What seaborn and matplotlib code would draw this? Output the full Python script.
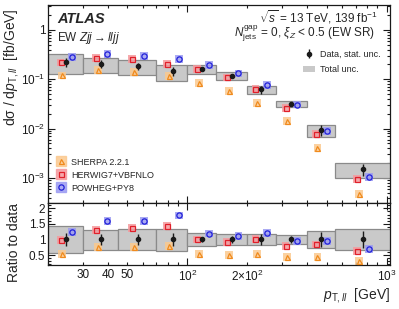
import numpy as np
import pandas as pd
import matplotlib
matplotlib.use("Agg")
import matplotlib.pyplot as plt
import seaborn as sns
from matplotlib.lines import Line2D
from matplotlib.patches import Patch
from matplotlib.legend_handler import HandlerTuple
from matplotlib.ticker import FixedLocator, FuncFormatter, MultipleLocator, NullFormatter

# ---------------- data ----------------
bin_edges = [20, 30, 45, 70, 100, 140, 200, 280, 400, 550, 1100]
pt_mean = [24.6, 37.0, 56.4, 84.4, 119.0, 168.0, 234.0, 331.0, 469.0, 759.0]
xsec_data = [0.225, 0.205, 0.185, 0.146, 0.160, 0.118, 0.062, 0.032, 0.0093, 0.0015]
stat_rel = [0.22, 0.17, 0.17, 0.21, 0.08, 0.10, 0.18, 0.10, 0.25, 0.28]
tot_up = [1.43, 1.31, 1.32, 1.35, 1.22, 1.16, 1.19, 1.14, 1.26, 1.35]
tot_dn = [0.57, 0.66, 0.66, 0.62, 0.79, 0.82, 0.82, 0.84, 0.73, 0.65]
ratio_sherpa = [0.53, 0.75, 0.75, 0.79, 0.53, 0.49, 0.54, 0.45, 0.44, 0.31]
ratio_herwig = [0.97, 1.30, 1.37, 1.42, 1.00, 0.92, 1.01, 0.80, 0.84, 0.63]
ratio_powheg = [1.24, 1.60, 1.60, 1.77, 1.19, 1.11, 1.22, 0.96, 0.95, 0.69]
model_names = ["SHERPA 2.2.1", "HERWIG7+VBFNLO", "POWHEG+PY8"]

# ---------------- style ----------------
sns.set_theme(style="ticks")
plt.rcParams["font.family"] = ["Liberation Sans", "DejaVu Sans"]
plt.rcParams["mathtext.fontset"] = "custom"
plt.rcParams["mathtext.rm"] = "Liberation Sans"
plt.rcParams["mathtext.it"] = "Liberation Sans:italic"
plt.rcParams["mathtext.bf"] = "Liberation Sans:bold"
plt.rcParams["mathtext.sf"] = "Liberation Sans"

edges = np.array(bin_edges, dtype=float)
lefts = edges[:-1]
widths = edges[1:] - edges[:-1]
xm = np.array(pt_mean)
data = np.array(xsec_data)
stat = np.array(stat_rel)
up = np.array(tot_up)
dn = np.array(tot_dn)

models = [
    dict(name=model_names[0], r=np.array(ratio_sherpa), marker="^", ec="#f08a1c", bg="#fbc98f", shift=0.96, ms=3.6),
    dict(name=model_names[1], r=np.array(ratio_herwig), marker="s", ec="#e0202a", bg="#f59a9e", shift=0.94, ms=3.6),
    dict(name=model_names[2], r=np.array(ratio_powheg), marker="o", ec="#2020d8", bg="#9c9cf2", shift=1.075, ms=3.8),
]

rows = []
for m in models:
    for i in range(len(xm)):
        rows.append(dict(model=m["name"], x=xm[i] * m["shift"], main=data[i] * m["r"][i], ratio=m["r"][i]))
df = pd.DataFrame(rows)
bg_pal = {m["name"]: m["bg"] for m in models}

fig = plt.figure(figsize=(3.99, 3.09), dpi=100)
ax = fig.add_axes([0.1203, 0.343, 0.857, 0.641])
rax = fig.add_axes([0.1203, 0.1424, 0.857, 0.2006], sharex=ax)

box_face = "#c9c9c9"
box_edge = "#8a8a8a"

# main panel
ax.set_xscale("log")
ax.set_yscale("log")
ax.bar(lefts, data * (up - dn), width=widths, bottom=data * dn, align="edge",
       color=box_face, edgecolor=box_edge, linewidth=0.9, zorder=1)
sns.scatterplot(data=df, x="x", y="main", hue="model", palette=bg_pal, marker="s", s=32,
                edgecolor="none", alpha=0.85, legend=False, ax=ax, zorder=2)
for m in models:
    ax.plot(xm * m["shift"], data * m["r"], ls="none", marker=m["marker"], ms=m["ms"],
            mfc="none", mec=m["ec"], mew=0.9, zorder=3)
eb = ax.errorbar(xm, data, yerr=data * stat, fmt="o", color="k", ms=3, elinewidth=1,
                 capsize=0, zorder=4)

# ratio panel
rax.bar(lefts, up - dn, width=widths, bottom=dn, align="edge",
        color=box_face, edgecolor=box_edge, linewidth=0.9, zorder=1)
sns.scatterplot(data=df, x="x", y="ratio", hue="model", palette=bg_pal, marker="s", s=32,
                edgecolor="none", alpha=0.85, legend=False, ax=rax, zorder=2)
for m in models:
    rax.plot(xm * m["shift"], m["r"], ls="none", marker=m["marker"], ms=m["ms"],
             mfc="none", mec=m["ec"], mew=0.9, zorder=3)
rax.errorbar(xm, np.ones_like(xm), yerr=stat, fmt="o", color="k", ms=3, elinewidth=1,
             capsize=0, zorder=4)

# axes limits & ticks
ax.set_xlim(20, 1040)
ax.set_ylim(3.1e-4, 3.2)
rax.set_ylim(0.18, 2.17)

rax.xaxis.set_major_locator(FixedLocator([100, 1000]))
rax.xaxis.set_major_formatter(FuncFormatter(lambda v, p: {100: "$10^2$", 1000: "$10^3$"}.get(int(round(v)), "")))
minor_x = [20, 30, 40, 50, 60, 70, 80, 90, 200, 300, 400, 500, 600, 700, 800, 900]
minor_lab = {30: "30", 40: "40", 50: "50", 200: r"$2{\times}10^2$"}
rax.xaxis.set_minor_locator(FixedLocator(minor_x))
rax.xaxis.set_minor_formatter(FuncFormatter(lambda v, p: minor_lab.get(int(round(v)), "")))

ax.yaxis.set_major_locator(FixedLocator([1e-3, 1e-2, 1e-1, 1]))
ax.yaxis.set_major_formatter(FuncFormatter(
    lambda v, p: {0: "1", -1: "$10^{-1}$", -2: "$10^{-2}$", -3: "$10^{-3}$"}.get(int(round(np.log10(v))), "")))
ax.yaxis.set_minor_locator(matplotlib.ticker.LogLocator(base=10, subs=np.arange(2, 10), numticks=20))
ax.yaxis.set_minor_formatter(NullFormatter())

rax.yaxis.set_major_locator(FixedLocator([0.5, 1.0, 1.5, 2.0]))
rax.yaxis.set_major_formatter(FuncFormatter(lambda v, p: {0.5: "0.5", 1.0: "1", 1.5: "1.5", 2.0: "2"}.get(round(v, 1), "")))
rax.yaxis.set_minor_locator(MultipleLocator(0.1))

for a in (ax, rax):
    a.tick_params(which="both", direction="in", top=True, right=True, width=0.8, colors="k",
                  labelsize=8.5, pad=2)
    a.tick_params(which="major", length=5)
    a.tick_params(which="minor", length=2.5)
    for s in a.spines.values():
        s.set_linewidth(0.9)
        s.set_color("k")
ax.tick_params(which="both", labelbottom=False)
rax.tick_params(axis="x", which="both", labelsize=8.5, pad=3)

# labels
ax.set_ylabel("d\u03c3 / d$p_{\\mathrm{T},ll}$  [fb/GeV]", fontsize=10, loc="top")
rax.set_ylabel("Ratio to data", fontsize=10, loc="top")
rax.set_xlabel("$p_{\\mathrm{T},ll}$  [GeV]", fontsize=10, loc="right", labelpad=1)
ax.yaxis.set_label_coords(-0.078, 0.985)
rax.yaxis.set_label_coords(-0.078, 1.0)

# annotations
ax.text(0.026, 0.965, "ATLAS", transform=ax.transAxes, fontsize=10.5, fontweight="bold",
        fontstyle="italic", va="top", ha="left")
ax.text(0.026, 0.875, r"EW $Zjj \rightarrow lljj$", transform=ax.transAxes, fontsize=8.5,
        va="top", ha="left")
ax.text(0.965, 0.985, r"$\sqrt{s}$ = 13 TeV, 139 fb$^{-1}$", transform=ax.transAxes,
        fontsize=8.5, va="top", ha="right")
ax.text(0.958, 0.905, r"$N_{\mathrm{jets}}^{\mathrm{gap}}$ = 0, $\xi_Z$ < 0.5 (EW SR)",
        transform=ax.transAxes, fontsize=8.5, va="top", ha="right")

# legends
mh = []
for m in models:
    mh.append((Line2D([], [], marker="s", ms=7.5, color=m["bg"], ls="none", alpha=0.85),
               Line2D([], [], marker=m["marker"], ms=m["ms"], mfc="none", mec=m["ec"], mew=0.9, ls="none")))
leg1 = ax.legend(mh, [m["name"] for m in models], handler_map={tuple: HandlerTuple(ndivide=1, pad=0)},
                 loc="lower left", bbox_to_anchor=(0.005, 0.025), frameon=False, fontsize=6.5,
                 handlelength=1.3, handletextpad=0.5, labelspacing=0.45, borderaxespad=0.2)
ax.add_artist(leg1)
ax.legend([eb, Patch(facecolor=box_face, edgecolor="none")], ["Data, stat. unc.", "Total unc."],
          loc="upper left", bbox_to_anchor=(0.73, 0.8), frameon=False, fontsize=6.5,
          handlelength=1.3, handletextpad=0.6, labelspacing=0.7, borderaxespad=0.2)

fig.savefig("out.png", dpi=100)
